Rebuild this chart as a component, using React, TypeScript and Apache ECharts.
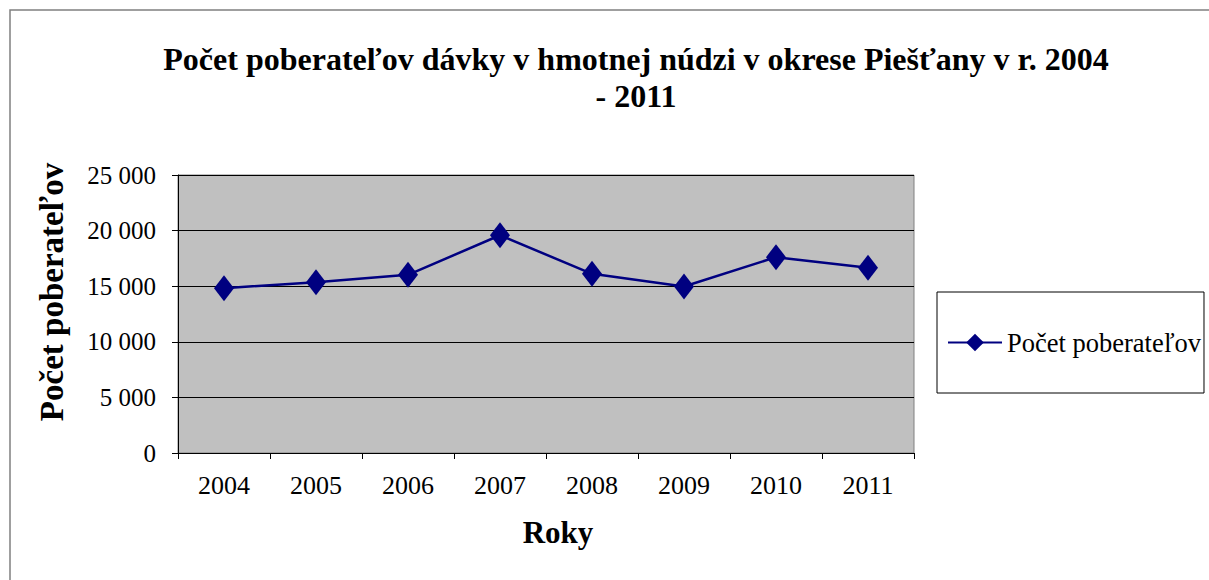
import React, { useEffect, useRef } from "react";
import * as echarts from "echarts";

const years = ["2004", "2005", "2006", "2007", "2008", "2009", "2010", "2011"];
const recipients = [14820, 15360, 16020, 19580, 16110, 14970, 17610, 16650];
const seriesName = "Počet poberateľov";
const titleText = "Počet poberateľov dávky v hmotnej núdzi v okrese Piešťany v r. 2004\n- 2011";
const xAxisName = "Roky";
const yAxisName = "Počet poberateľov";

const FONT = "'Liberation Serif', 'Times New Roman', serif";

function fmt(v: number): string {
  const s = String(Math.round(v));
  return s.replace(/\B(?=(\d{3})+(?!\d))/g, " ");
}

export default function App() {
  const ref = useRef<HTMLDivElement>(null);
  useEffect(() => {
    if (!ref.current) return;
    const chart = echarts.init(ref.current, null, { renderer: "svg" });
    chart.setOption({
      animation: false,
      backgroundColor: "#ffffff",
      textStyle: { fontFamily: FONT },
      title: {
        text: titleText,
        left: 631,
        top: 35,
        textAlign: "center",
        textStyle: {
          fontFamily: FONT,
          fontSize: 32,
          fontWeight: "bold",
          color: "#000",
          lineHeight: 37,
        },
      },
      graphic: [
        {
          type: "rect",
          shape: { x: 10, y: 10, width: 1240, height: 620 },
          style: { fill: "none", stroke: "#808080", lineWidth: 1.5 },
          silent: true,
          z: -1,
        },
      ],
      legend: {
        left: 937,
        top: 292,
        orient: "vertical",
        data: [seriesName],
        borderColor: "#000",
        borderWidth: 1,
        padding: [37, 3, 37, 10],
        itemWidth: 54,
        itemHeight: 22,
        itemGap: 6,
        textStyle: { fontFamily: FONT, fontSize: 26.5, color: "#000" },
      },
      grid: {
        left: 178,
        top: 175,
        right: 295,
        bottom: 127,
        show: true,
        backgroundColor: "#c0c0c0",
        borderColor: "#808080",
        borderWidth: 1,
      },
      xAxis: {
        type: "category",
        data: years,
        boundaryGap: true,
        name: xAxisName,
        nameLocation: "middle",
        nameGap: 64,
        nameTextStyle: { fontFamily: FONT, fontSize: 31, fontWeight: "bold", color: "#000", padding: [0, 0, 0, 24] },
        axisLine: { lineStyle: { color: "#000", width: 1 } },
        axisTick: { show: true, alignWithLabel: false, length: 6, lineStyle: { color: "#000" } },
        axisLabel: { fontFamily: FONT, fontSize: 26, color: "#000", margin: 19 },
        splitLine: { show: false },
      },
      yAxis: {
        type: "value",
        min: 0,
        max: 25000,
        interval: 5000,
        name: yAxisName,
        nameLocation: "middle",
        nameGap: 110,
        nameTextStyle: { fontFamily: FONT, fontSize: 33, fontWeight: "bold", color: "#000", padding: [0, 0, 0, 44] },
        axisLine: { show: true, lineStyle: { color: "#000", width: 1 } },
        axisTick: { show: true, length: 6, lineStyle: { color: "#000" } },
        axisLabel: { fontFamily: FONT, fontSize: 25, color: "#000", margin: 22, formatter: (v: number) => fmt(v) },
        splitLine: { show: true, lineStyle: { color: "#000", width: 1 } },
      },
      series: [
        {
          name: seriesName,
          type: "line",
          data: recipients,
          symbol: "diamond",
          symbolSize: [20, 26],
          lineStyle: { color: "#000080", width: 2.5 },
          itemStyle: { color: "#000080" },
        },
      ],
    });
    return () => chart.dispose();
  }, []);
  return (
    <div
      ref={ref}
      style={{ position: "fixed", left: 0, top: 0, width: 1209, height: 580 }}
    />
  );
}
